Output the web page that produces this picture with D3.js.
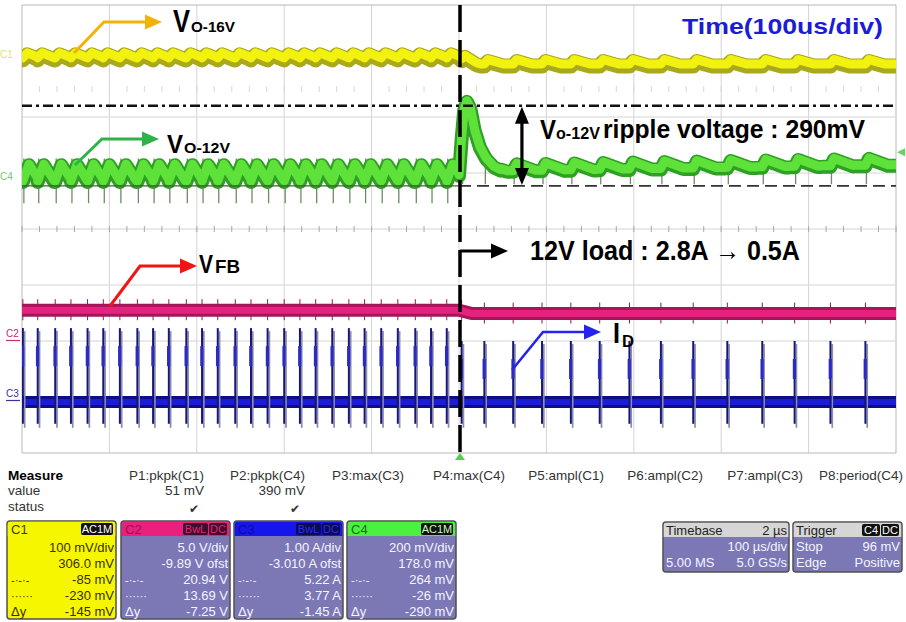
<!DOCTYPE html>
<html><head><meta charset="utf-8">
<script src="https://cdn.jsdelivr.net/npm/d3@7"></script>
<style>
body{margin:0;background:#fff}
svg{display:block}
text{font-family:"Liberation Sans",Arial,sans-serif}
</style>
</head><body>
<svg id="c" width="906" height="622"></svg>
<script>
// ---------------- DATA ----------------
// time axis in microseconds (100 us/div), vertical axis in screen divisions
const gridTimes = [-500,-400,-300,-200,-100,0,100,200,300,400,500];
const gridDivs = [-4,-3,-2,-1,0,1,2,3,4];
const minorTickTimes = d3.range(-500, 501, 20);
// switching pulse instants (us)
const pulseTimes = [-499,-482,-462,-444,-425,-407,-388,-368,-350,-332,-312,-294,-276,-256,-238,-219,-200,-182,-164,-145,-126,-108,-89,-70,-50,-32,-14,3,29,62,95,128,161,195,231,268,307,347,384,425,465];
const stepTime = 0;
// C1 (Vo-16V): base level before/after load step (div), ripple bump height (div)
const c1Levels = [3.02, 2.91];
const c1Bump = [0.09, 0.08];
// C4 (Vo-12V)
const c4LevelBefore = 0.84;
const c4Bump = [0.3, 0.13];
const c4Transient = [[0,0.95],[3,1.6],[6,2.12],[9,2.27],[13,2.15],[18,1.75],[24,1.45],[31,1.25],[40,1.1],[48,1.04]];
const c4LevelAfter = [[48,1.02],[500,1.13]];
const c4SpikeLow = [0.46, 0.80];
// C2 (VFB)
const c2Levels = [-1.45, -1.51];
// C3 (ID)
const c3Baseline = -3.09;
const c3SpikeTop = [-1.77, -2.0];
const c3SpikeBottom = -3.55;
// cursors (div)
const cursorUpper = 2.2;
const cursorLower = 0.77;

// measurement panel
const measureHeaders = ["P1:pkpk(C1)","P2:pkpk(C4)","P3:max(C3)","P4:max(C4)","P5:ampl(C1)","P6:ampl(C2)","P7:ampl(C3)","P8:period(C4)"];
const measureValues = ["51 mV","390 mV","","","","","",""];
const measureStatus = [true,true,false,false,false,false,false,false];
const channelNames = ["C1","C2","C3","C4"];
const channelCoupling = [["AC1M"],["BwL","DC"],["BwL","DC"],["AC1M"]];
const channelRows = [
  ["100 mV/div","306.0 mV","-85 mV","-230 mV","-145 mV"],
  ["5.0 V/div","-9.89 V ofst","20.94 V","13.69 V","-7.25 V"],
  ["1.00 A/div","-3.010 A ofst","5.22 A","3.77 A","-1.45 A"],
  ["200 mV/div","178.0 mV","264 mV","-26 mV","-290 mV"]
];
const rowMarkers = ["","","-·-·-","······","Δy"];
const timebaseRows = [["Timebase","2 µs"],["","100 µs/div"],["5.00 MS","5.0 GS/s"]];
const triggerRows = [["Trigger",""],["Stop","96 mV"],["Edge","Positive"]];

// ---------------- SCALES ----------------
const svg = d3.select("#c");
const X0 = 22, X1 = 896, Y0 = 5, Y1 = 453;
const x = d3.scaleLinear().domain([-500,500]).range([X0,X1]);
const y = d3.scaleLinear().domain([-4,4]).range([Y1,Y0]);

svg.append("defs").append("clipPath").attr("id","plot")
  .append("rect").attr("x",X0).attr("y",Y0).attr("width",X1-X0).attr("height",Y1-Y0);

// ---------------- GRID ----------------
const grid = svg.append("g");
grid.selectAll("line.v").data(gridTimes).join("line")
  .attr("x1",d=>x(d)).attr("x2",d=>x(d)).attr("y1",Y0).attr("y2",Y1)
  .attr("stroke",d=>(d===-500||d===500)?"#b8b8b8":"#d4d4d4").attr("stroke-width",1);
grid.selectAll("line.h").data(gridDivs).join("line")
  .attr("x1",X0).attr("x2",X1).attr("y1",d=>y(d)).attr("y2",d=>y(d))
  .attr("stroke",d=>(d===-4||d===4)?"#b8b8b8":"#d4d4d4").attr("stroke-width",1);
[0, 2.5].forEach((lv,k)=>{
  grid.selectAll(null).data(minorTickTimes).join("line")
    .attr("x1",d=>x(d)).attr("x2",d=>x(d))
    .attr("y1",y(lv)-3).attr("y2",y(lv)+3)
    .attr("stroke",k===0?"#a8a8a8":"#d8d8d8").attr("stroke-width",1);
});

// ---------------- TRACE HELPERS ----------------
function lastPulse(t){
  const i = d3.bisectRight(pulseTimes, t) - 1;
  if (i < 0) return pulseTimes[0] - (pulseTimes[1]-pulseTimes[0]);
  return pulseTimes[i];
}
function bump(dt, rise, decay){
  if (dt < 0) return 0;
  if (dt < rise) return dt/rise;
  return Math.max(0, 1 - (dt-rise)/decay);
}
const samples = d3.range(-500, 500.01, 0.25);
const c4Trans = d3.scaleLinear().domain(c4Transient.map(d=>d[0])).range(c4Transient.map(d=>d[1]));
const c4After = d3.scaleLinear().domain(c4LevelAfter.map(d=>d[0])).range(c4LevelAfter.map(d=>d[1]));
const c1Lev = d3.scaleLinear().domain([0,20]).range(c1Levels).clamp(true);
const c2Lev = d3.scaleLinear().domain([0,15]).range(c2Levels).clamp(true);

function c1Value(t){
  const dt = t - lastPulse(t);
  if (t < stepTime) return c1Levels[0] + c1Bump[0]*bump(dt,5,14);
  return c1Lev(t) + c1Bump[1]*bump(dt,4,18);
}
function c4Value(t){
  const dt = t - lastPulse(t);
  if (t < stepTime) return c4LevelBefore + c4Bump[0]*bump(dt,7,12);
  if (t <= 48) return c4Trans(t);
  return c4After(t) + c4Bump[1]*bump(dt,4,22);
}
function c2Value(t){ return t < stepTime ? c2Levels[0] : c2Lev(t); }

const line = d3.line().x(d=>x(d[0])).y(d=>y(d[1]));
const traces = svg.append("g").attr("clip-path","url(#plot)");

function band(g, data, outer, inner, wOuter, wInner, dy){
  g.append("path").attr("d",line(data)).attr("fill","none")
    .attr("stroke",outer).attr("stroke-width",wOuter).attr("stroke-linejoin","round");
  g.append("path").attr("d",line(data)).attr("fill","none")
    .attr("transform",`translate(0,${dy})`)
    .attr("stroke",inner).attr("stroke-width",wInner).attr("stroke-linejoin","round");
}

// C2 magenta (VFB)
const c2Data = samples.map(t=>[t,c2Value(t)]);
const gC2 = traces.append("g");
gC2.selectAll(null).data(pulseTimes).join("line")
  .attr("x1",d=>x(d)).attr("x2",d=>x(d))
  .attr("y1",d=>y(c2Value(d))-11).attr("y2",d=>y(c2Value(d))+10)
  .attr("stroke","#8a1a50").attr("stroke-width",1);
band(gC2, c2Data, "#a3165a", "#e3237e", 13, 7, 0);

// C3 blue (ID)
const gC3 = traces.append("g");
band(gC3, samples.map(t=>[t,c3Baseline]), "#0e0e84", "#1c1cd2", 12, 6, 0);
const spikes = gC3.selectAll("g.sp").data(pulseTimes).join("g");
spikes.append("line")
  .attr("x1",d=>x(d)+1.8).attr("x2",d=>x(d)+1.8)
  .attr("y1",d=>y(d<stepTime?c3SpikeTop[0]:c3SpikeTop[1])+3).attr("y2",y(c3SpikeBottom))
  .attr("stroke","#8c8cac").attr("stroke-width",1.7);
spikes.append("line")
  .attr("x1",d=>x(d)).attr("x2",d=>x(d))
  .attr("y1",d=>y(d<stepTime?c3SpikeTop[0]:c3SpikeTop[1])).attr("y2",y(c3SpikeBottom)-4)
  .attr("stroke","#16167a").attr("stroke-width",2);
spikes.append("rect")
  .attr("x",d=>x(d)-1.8).attr("width",3.2)
  .attr("y",d=>y(d<stepTime?c3SpikeTop[0]:c3SpikeTop[1])+18).attr("height",20)
  .attr("fill","#2a2ac4");

// C1 yellow (Vo-16V)
band(traces.append("g"), samples.map(t=>[t,c1Value(t)]), "#aaa81c", "#f2f210", 15, 9, -2);

// C4 green (Vo-12V)
const gC4 = traces.append("g");
gC4.selectAll(null).data(pulseTimes).join("line")
  .attr("x1",d=>x(d)+1).attr("x2",d=>x(d)+1)
  .attr("y1",d=>y(c4Value(d)+ (d<stepTime?0.42:0.22)))
  .attr("y2",d=>y(d<stepTime?c4SpikeLow[0]:c4SpikeLow[1]))
  .attr("stroke","#6f8a6a").attr("stroke-width",1.3);
band(gC4, samples.map(t=>[t,c4Value(t)]), "#2f9f26", "#5ee23a", 14, 9, -1);

// ---------------- CURSORS & MARKERS ----------------
const ann = svg.append("g");
ann.append("line").attr("x1",X0).attr("x2",X1).attr("y1",y(cursorUpper)).attr("y2",y(cursorUpper))
  .attr("stroke","#111").attr("stroke-width",2.6).attr("stroke-dasharray","10,4,3,4");
ann.append("line").attr("x1",X0).attr("x2",x(stepTime)).attr("y1",y(cursorLower)).attr("y2",y(cursorLower))
  .attr("stroke","#4a5a40").attr("stroke-width",1.2);
ann.append("line").attr("x1",x(stepTime)).attr("x2",X1).attr("y1",y(cursorLower)).attr("y2",y(cursorLower))
  .attr("stroke","#333").attr("stroke-width",1.8).attr("stroke-dasharray","12,6");
ann.append("line").attr("x1",x(stepTime)+1).attr("x2",x(stepTime)+1).attr("y1",Y0).attr("y2",Y1+2)
  .attr("stroke","#000").attr("stroke-width",3.5).attr("stroke-dasharray","27,8");

function arrowHead(g, tipX, tipY, dir, len, half, color){
  let pts;
  if (dir==='r') pts = [[tipX,tipY],[tipX-len,tipY-half],[tipX-len,tipY+half]];
  if (dir==='u') pts = [[tipX,tipY],[tipX-half,tipY+len],[tipX+half,tipY+len]];
  if (dir==='d') pts = [[tipX,tipY],[tipX-half,tipY-len],[tipX+half,tipY-len]];
  g.append("polygon").attr("points",pts.map(p=>p.join(",")).join(" ")).attr("fill",color);
}
function bentArrow(g, pts, color, w){
  g.append("polyline").attr("points",pts.map(p=>p.join(",")).join(" "))
    .attr("fill","none").attr("stroke",color).attr("stroke-width",w).attr("stroke-linejoin","miter");
  const e = pts[pts.length-1];
  arrowHead(g, e[0]+16, e[1], 'r', 17, 7.5, color);
}
const ax = x(72);
ann.append("line").attr("x1",ax).attr("x2",ax).attr("y1",y(cursorUpper)+14).attr("y2",y(cursorLower)-14)
  .attr("stroke","#000").attr("stroke-width",3.2);
arrowHead(ann, ax, y(cursorUpper)+1, 'u', 17, 7, "#000");
arrowHead(ann, ax, y(cursorLower)-1, 'd', 17, 7, "#000");

bentArrow(ann, [[74,53],[104,22],[146,22]], "#f3b20a", 3);
bentArrow(ann, [[75,165],[102,139],[143,139]], "#2fb24a", 3);
bentArrow(ann, [[110,306],[140,266],[181,266]], "#f01414", 3);
bentArrow(ann, [[512,370],[543,332],[585,332]], "#2424ee", 2.6);
bentArrow(ann, [[x(stepTime)+1,251],[492,251]], "#000", 3);

// channel markers
ann.append("text").attr("x",0).attr("y",58).attr("font-size",10).attr("fill","#e6e070").text("C1");
ann.append("text").attr("x",0).attr("y",180).attr("font-size",10).attr("fill","#74c874").text("C4");
ann.append("text").attr("x",6).attr("y",337).attr("font-size",10).attr("fill","#c0306e").text("C2");
ann.append("line").attr("x1",6).attr("x2",20).attr("y1",340.5).attr("y2",340.5).attr("stroke","#c0306e").attr("stroke-width",1.2);
ann.append("text").attr("x",6).attr("y",397).attr("font-size",10).attr("fill","#34349c").text("C3");
ann.append("line").attr("x1",6).attr("x2",20).attr("y1",400.5).attr("y2",400.5).attr("stroke","#34349c").attr("stroke-width",1.2);
ann.append("polygon").attr("points",`${X1+1},${y(1.37)} ${X1+9},${y(1.37)-4} ${X1+9},${y(1.37)+4}`).attr("fill","#5ed85e");
ann.append("polygon").attr("points",`${x(stepTime)+1},${Y1} ${x(stepTime)-4},${Y1+7} ${x(stepTime)+6},${Y1+7}`).attr("fill","#4ed24e");

// ---------------- LABELS ----------------
function t(g, s, xx, yy, size, opts={}){
  const e = g.append("text").attr("x",xx).attr("y",yy).attr("font-size",size)
    .attr("font-weight",opts.weight||"bold").attr("fill",opts.fill||"#000").text(s);
  if (opts.len) e.attr("textLength",opts.len).attr("lengthAdjust","spacingAndGlyphs");
  if (opts.anchor) e.attr("text-anchor",opts.anchor);
  return e;
}
t(ann,"V",173,32,32,{len:17});
t(ann,"O-16V",191,32,15,{len:44});
t(ann,"V",167,153,26,{len:16});
t(ann,"O-12V",184,153,15,{len:46});
t(ann,"V",199,273,25,{len:14});
t(ann,"FB",215,273,18,{len:25});
t(ann,"I",613,343,30,{len:7});
t(ann,"D",622,347,17,{len:12});
t(ann,"V",540,139,28,{len:16});
t(ann,"o-12V",556,139,17,{len:44});
t(ann,"ripple voltage : 290mV",603,138,26,{len:262});
t(ann,"12V load : 2.8A \u2192 0.5A",530,260,27,{len:270});
t(ann,"Time(100us/div)",682,34,22,{len:201,fill:"#1c1cd6"});

// ---------------- MEASUREMENT PANEL ----------------
const panel = svg.append("g");
const fs = 13;
t(panel,"Measure",8,480,13.5,{len:55});
t(panel,"value",8,495,13.5,{weight:"normal",fill:"#333"});
t(panel,"status",8,511,13.5,{weight:"normal",fill:"#333"});
const hdrEnds = [204,305,404,505,604,703,803,903];
measureHeaders.forEach((h,i)=>{
  t(panel,h,hdrEnds[i],480,13.5,{weight:"normal",fill:"#333",anchor:"end"});
  if (measureValues[i]) t(panel,measureValues[i],hdrEnds[i],495,13.5,{weight:"normal",fill:"#333",anchor:"end"});
  if (measureStatus[i]) t(panel,"\u2714",hdrEnds[i]-5,513,12,{weight:"normal",fill:"#333",anchor:"end"});
});

const boxX = [7,121,234,347], boxW = 109, boxY = 521, boxH = 98;
const hdrFill = ["#f6f600","#ea1f7e","#1616ec","#4cf040"];
const hdrText = ["#3a3a00","#a01050","#0c0c9c","#1d6a1d"];
const badgeFill = ["#111","#3c0f28","#0b0b52","#111"];
const badgeText = ["#fff","#e8207c","#2a2af4","#c8f8c0"];
const bodyFill = ["#f6f600","#7c78b6","#7c78b6","#7c78b6"];
const bodyText = ["#3a3000","#f4f4ff","#f4f4ff","#f4f4ff"];
channelNames.forEach((n,i)=>{
  const g = panel.append("g");
  const bx = boxX[i];
  g.append("rect").attr("x",bx).attr("y",boxY).attr("width",boxW).attr("height",boxH).attr("rx",3)
    .attr("fill",bodyFill[i]).attr("stroke","#505050").attr("stroke-width",1.5);
  g.append("path").attr("d",`M${bx+0.75},${boxY+15} V${boxY+3} Q${bx+0.75},${boxY+0.75} ${bx+3},${boxY+0.75} H${bx+boxW-3} Q${bx+boxW-0.75},${boxY+0.75} ${bx+boxW-0.75},${boxY+3} V${boxY+15} Z`)
    .attr("fill",hdrFill[i]);
  t(g,n,bx+4,boxY+13,13,{weight:"normal",fill:hdrText[i]});
  const parts = channelCoupling[i];
  let right = bx+boxW-3;
  const widths = parts.map(p=>p.length*7+4);
  for (let k=parts.length-1;k>=0;k--){
    const w = widths[k];
    g.append("rect").attr("x",right-w).attr("y",boxY+2).attr("width",w).attr("height",12).attr("rx",2).attr("fill",badgeFill[i]);
    t(g,parts[k],right-w/2,boxY+12,11,{weight:"normal",fill:badgeText[i],anchor:"middle"});
    right -= w+1;
  }
  channelRows[i].forEach((r,j)=>{
    t(g,r,bx+boxW-2,boxY+31+j*16,fs,{weight:"normal",fill:bodyText[i],anchor:"end"});
    if (rowMarkers[j]) t(g,rowMarkers[j],bx+4,boxY+31+j*16,j===4?13:11,{weight:"normal",fill:bodyText[i]});
  });
});

function infoBox(bx, bw, rows, badges){
  const g = panel.append("g");
  const by = 522, bh = 50;
  g.append("rect").attr("x",bx).attr("y",by).attr("width",bw).attr("height",bh).attr("rx",3)
    .attr("fill","#7c78b6").attr("stroke","#505050").attr("stroke-width",1.5);
  g.append("path").attr("d",`M${bx+0.75},${by+15} V${by+3} Q${bx+0.75},${by+0.75} ${bx+3},${by+0.75} H${bx+bw-3} Q${bx+bw-0.75},${by+0.75} ${bx+bw-0.75},${by+3} V${by+15} Z`)
    .attr("fill","#d6d6d6");
  rows.forEach((r,j)=>{
    const c = j===0?"#222":"#f4f4ff";
    if (r[0]) t(g,r[0],bx+3,by+13+j*16,fs,{weight:"normal",fill:c});
    if (r[1]) t(g,r[1],bx+bw-2,by+13+j*16,fs,{weight:"normal",fill:c,anchor:"end"});
  });
  if (badges){
    let right = bx+bw-3;
    for (let k=badges.length-1;k>=0;k--){
      const w = badges[k].length*7+4;
      g.append("rect").attr("x",right-w).attr("y",by+2).attr("width",w).attr("height",12).attr("rx",2).attr("fill","#111");
      t(g,badges[k],right-w/2,by+12,11,{weight:"normal",fill:"#fff",anchor:"middle"});
      right -= w+1;
    }
  }
}
infoBox(663,126,timebaseRows,null);
infoBox(793,109,triggerRows,["C4","DC"]);
</script>
</body></html>
